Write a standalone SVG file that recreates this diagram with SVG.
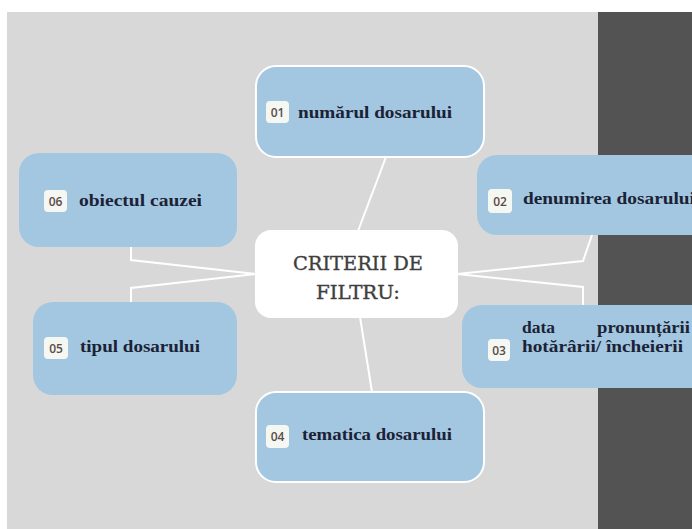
<svg xmlns="http://www.w3.org/2000/svg" width="692" height="529" viewBox="0 0 692 529">
<style>
.box{fill:#a3c7e0;}
.outl{stroke:#ffffff;stroke-width:2;}
.badge{fill:#f5f7f3;}
.num{font-family:"Open Sans","DejaVu Sans",sans-serif;font-size:12px;font-weight:600;fill:#5b4a45;text-anchor:middle;}
.lbl{font-family:"Liberation Serif","DejaVu Serif",serif;font-size:17px;font-weight:bold;fill:#1b2236;}
.ctr{font-family:"DejaVu Serif","Liberation Serif",serif;font-size:19px;fill:#3e3e3e;stroke:#3e3e3e;stroke-width:0.35;text-anchor:middle;}
.con{fill:none;stroke:#ffffff;stroke-width:2;stroke-linejoin:miter;}
</style>
<rect x="0" y="0" width="692" height="529" fill="#ffffff"/>
<rect x="7" y="12" width="591" height="517" fill="#d8d8d8"/>
<rect x="598" y="12" width="94" height="517" fill="#535353"/>
<g id="connectors">
<path class="con" d="M386,157 L358,231"/>
<path class="con" d="M360,317 L372,392"/>
<path class="con" d="M457,274 L583,261 L592,235"/>
<path class="con" d="M457,274 L583,287 L583,305"/>
<path class="con" d="M256,274 L131,260 L131,247"/>
<path class="con" d="M256,274 L131,288 L131,302"/>
</g>
<g id="node-center">
<rect x="255" y="230" width="203" height="88" rx="16" fill="#ffffff"/>
<text class="ctr" x="358" y="270" textLength="130" lengthAdjust="spacingAndGlyphs">CRITERII DE</text>
<text class="ctr" x="358" y="299" textLength="84" lengthAdjust="spacingAndGlyphs">FILTRU:</text>
</g>
<g id="node-01">
<rect class="box outl" x="256" y="66" width="228" height="91" rx="20"/>
<rect class="badge" x="266" y="101" width="23" height="22" rx="4"/>
<text class="num" x="277.5" y="116.5">01</text>
<text class="lbl" x="298" y="118" textLength="154" lengthAdjust="spacingAndGlyphs">numărul dosarului</text>
</g>
<g id="node-02">
<rect class="box" x="477" y="155" width="240" height="80" rx="20"/>
<rect class="badge" x="488" y="189" width="24" height="24" rx="4"/>
<text class="num" x="500" y="205.5">02</text>
<text class="lbl" x="523" y="204" textLength="172" lengthAdjust="spacingAndGlyphs">denumirea dosarului</text>
</g>
<g id="node-06">
<rect class="box" x="19" y="153" width="218" height="94" rx="20"/>
<rect class="badge" x="44" y="190" width="23" height="22" rx="4"/>
<text class="num" x="55.5" y="205.5">06</text>
<text class="lbl" x="79" y="206" textLength="123" lengthAdjust="spacingAndGlyphs">obiectul cauzei</text>
</g>
<g id="node-05">
<rect class="box" x="33" y="302" width="204" height="93" rx="20"/>
<rect class="badge" x="44" y="337" width="24" height="22" rx="4"/>
<text class="num" x="56" y="352.5">05</text>
<text class="lbl" x="80" y="352" textLength="120" lengthAdjust="spacingAndGlyphs">tipul dosarului</text>
</g>
<g id="node-03">
<rect class="box" x="462" y="305" width="260" height="83" rx="20"/>
<rect class="badge" x="488" y="339" width="22" height="22" rx="4"/>
<text class="num" x="499" y="354.5">03</text>
<text class="lbl" x="522" y="333" textLength="33" lengthAdjust="spacingAndGlyphs">data</text>
<text class="lbl" x="597" y="333" textLength="93" lengthAdjust="spacingAndGlyphs">pronunțării</text>
<text class="lbl" x="522" y="352" textLength="161" lengthAdjust="spacingAndGlyphs">hotărârii/ încheierii</text>
</g>
<g id="node-04">
<rect class="box outl" x="256" y="392" width="228" height="90" rx="20"/>
<rect class="badge" x="266" y="425" width="23" height="23" rx="4"/>
<text class="num" x="277.5" y="441">04</text>
<text class="lbl" x="302" y="440" textLength="150" lengthAdjust="spacingAndGlyphs">tematica dosarului</text>
</g>
</svg>
